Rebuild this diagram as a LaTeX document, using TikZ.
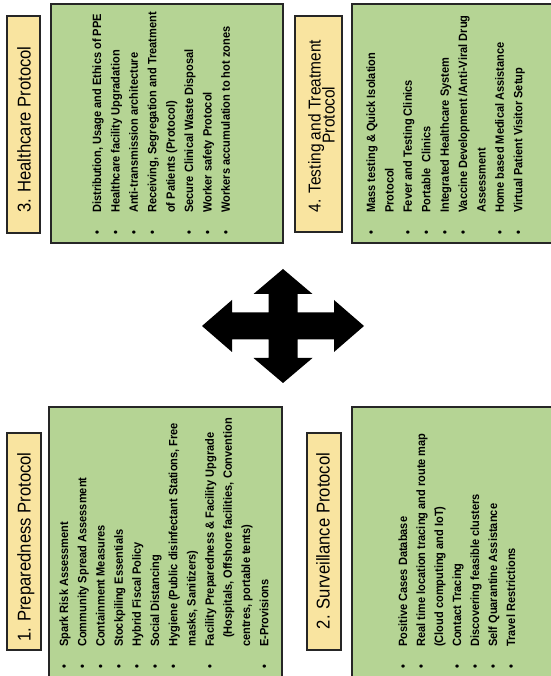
\documentclass[tikz,border=0pt]{standalone}
\usepackage{fontspec}
\newfontfamily\itemsans[FakeStretch=0.92]{Liberation Sans}
\newfontfamily\headsans[FakeStretch=0.9]{Liberation Sans}
\definecolor{boxgreen}{RGB}{181,212,148}
\definecolor{headyellow}{RGB}{249,228,160}
\tikzset{
  greenbox/.style={fill=boxgreen, draw=black!85, line width=1.3pt},
  headbox/.style={fill=headyellow, draw=black!85, line width=1.3pt},
  itemline/.style={rotate=90, anchor=mid west, inner sep=0pt, font=\itemsans\bfseries\fontsize{12}{14}\selectfont},
  dotmark/.style={rotate=90, anchor=mid, inner sep=0pt, font=\itemsans\bfseries\fontsize{12}{14}\selectfont},
  headtext/.style={rotate=90, anchor=mid, inner sep=0pt, font=\headsans\fontsize{18.5}{20}\selectfont},
  headtextsmall/.style={rotate=90, anchor=mid, inner sep=0pt, font=\headsans\fontsize{17.2}{19}\selectfont},
}
\begin{document}
\begin{tikzpicture}[x=1pt,y=1pt]
\useasboundingbox (0,0) rectangle (550,676);
% boxes
\draw[greenbox] (51,433) rectangle (283,672);
\draw[headbox] (7,443) rectangle (40,660);
\draw[greenbox] (352,433) rectangle (556,672);
\draw[headbox] (295,444) rectangle (342,660);
\draw[greenbox] (49,-4) rectangle (282,269);
\draw[headbox] (7,26) rectangle (41,243);
\draw[greenbox] (352,-4) rectangle (556,269);
\draw[headbox] (307,26) rectangle (341,243);
% headers
\node[headtext] (h3) at (28.5,546.5) {3. Healthcare Protocol};
\node[headtextsmall] (h4a) at (318.5,550) {4. Testing and Treatment};
\node[headtextsmall] (h4b) at (332.5,561) {Protocol};
\node[headtext] (h1) at (28.5,129) {1. Preparedness Protocol};
\node[headtext] (h2) at (327.5,135) {2. Surveillance Protocol};
% center arrow
\coordinate (c) at (283,350);
\fill[black] (c) ++(81,0) -- ++(-30,26) -- ++(0,-12.5) -- ++(-36.5,0) -- ++(0,18.5) -- ++(15,0)
  -- ++(-29.5,25) -- ++(-29.5,-25) -- ++(15,0) -- ++(0,-18.5) -- ++(-36.5,0) -- ++(0,12.5)
  -- ++(-30,-26) -- ++(30,-26) -- ++(0,12.5) -- ++(36.5,0) -- ++(0,-18.5) -- ++(-15,0)
  -- ++(29.5,-25) -- ++(29.5,25) -- ++(-15,0) -- ++(0,18.5) -- ++(36.5,0) -- ++(0,-12.5) -- cycle;
% top-left list
\node[dotmark] (tlb1) at (99,443) {\textbullet};
\node[itemline] (tl1) at (99,463) {Distribution, Usage and Ethics of PPE};
\node[dotmark] (tlb2) at (117.4,443) {\textbullet};
\node[itemline] (tl2) at (117.4,463) {Healthcare facility Upgradation};
\node[dotmark] (tlb3) at (135.8,443) {\textbullet};
\node[itemline] (tl3) at (135.8,463) {Anti-transmission architecture};
\node[dotmark] (tlb4) at (154.2,443) {\textbullet};
\node[itemline] (tl4) at (154.2,463) {Receiving, Segregation and Treatment};
\node[itemline] (tl5) at (172.6,463) {of Patients (Protocol)};
\node[dotmark] (tlb6) at (191,443) {\textbullet};
\node[itemline] (tl6) at (191,463) {Secure Clinical Waste Disposal};
\node[dotmark] (tlb7) at (209.4,443) {\textbullet};
\node[itemline] (tl7) at (209.4,463) {Worker safety Protocol};
\node[dotmark] (tlb8) at (227.8,443) {\textbullet};
\node[itemline] (tl8) at (227.8,463) {Workers accumulation to hot zones};
% top-right list
\node[dotmark] (trb1) at (373,443) {\textbullet};
\node[itemline] (tr1) at (373,463) {Mass testing \& Quick Isolation};
\node[itemline] (tr2) at (391.4,463) {Protocol};
\node[dotmark] (trb3) at (409.8,443) {\textbullet};
\node[itemline] (tr3) at (409.8,463) {Fever and Testing Clinics};
\node[dotmark] (trb4) at (428.2,443) {\textbullet};
\node[itemline] (tr4) at (428.2,463) {Portable\ \ Clinics};
\node[dotmark] (trb5) at (446.6,443) {\textbullet};
\node[itemline] (tr5) at (446.6,463) {Integrated Healthcare System};
\node[dotmark] (trb6) at (465,443) {\textbullet};
\node[itemline] (tr6) at (465,463) {Vaccine Development /Anti-Viral Drug};
\node[itemline] (tr7) at (483.4,463) {Assessment};
\node[dotmark] (trb8) at (501.8,443) {\textbullet};
\node[itemline] (tr8) at (501.8,463) {Home based Medical Assistance};
\node[dotmark] (trb9) at (520.2,443) {\textbullet};
\node[itemline] (tr9) at (520.2,463) {Virtual Patient Visitor Setup};
% bottom-left list
\node[dotmark] (blb1) at (66,9) {\textbullet};
\node[itemline] (bl1) at (66,29) {Spark Risk Assessment};
\node[dotmark] (blb2) at (84.2,9) {\textbullet};
\node[itemline] (bl2) at (84.2,29) {Community Spread Assessment};
\node[dotmark] (blb3) at (102.4,9) {\textbullet};
\node[itemline] (bl3) at (102.4,29) {Containment Measures};
\node[dotmark] (blb4) at (120.6,9) {\textbullet};
\node[itemline] (bl4) at (120.6,29) {Stockpiling Essentials};
\node[dotmark] (blb5) at (138.8,9) {\textbullet};
\node[itemline] (bl5) at (138.8,29) {Hybrid Fiscal Policy};
\node[dotmark] (blb6) at (157,9) {\textbullet};
\node[itemline] (bl6) at (157,29) {Social Distancing};
\node[dotmark] (blb7) at (175.2,9) {\textbullet};
\node[itemline] (bl7) at (175.2,29) {Hygiene (Public disinfectant Stations, Free};
\node[itemline] (bl8) at (193.4,29) {masks, Sanitizers)};
\node[dotmark] (blb9) at (211.6,9) {\textbullet};
\node[itemline] (bl9) at (211.6,29) {Facility Preparedness \& Facility Upgrade};
\node[itemline] (bl10) at (229.8,38) {(Hospitals, Offshore facilities, Convention};
\node[itemline] (bl11) at (248,29) {centres, portable tents)};
\node[dotmark] (blb12) at (266.2,9) {\textbullet};
\node[itemline] (bl12) at (266.2,29) {E-Provisions};
% bottom-right list
\node[dotmark] (brb1) at (405,9) {\textbullet};
\node[itemline] (br1) at (405,29) {Positive Cases Database};
\node[dotmark] (brb2) at (423,9) {\textbullet};
\node[itemline] (br2) at (423,29) {Real time location tracing and route map};
\node[itemline] (br3) at (441,29) {(Cloud computing and IoT)};
\node[dotmark] (brb4) at (459,9) {\textbullet};
\node[itemline] (br4) at (459,29) {Contact Tracing};
\node[dotmark] (brb5) at (477,9) {\textbullet};
\node[itemline] (br5) at (477,29) {Discovering feasible clusters};
\node[dotmark] (brb6) at (495,9) {\textbullet};
\node[itemline] (br6) at (495,29) {Self Quarantine Assistance};
\node[dotmark] (brb7) at (513,9) {\textbullet};
\node[itemline] (br7) at (513,29) {Travel Restrictions};
\end{tikzpicture}
\end{document}
